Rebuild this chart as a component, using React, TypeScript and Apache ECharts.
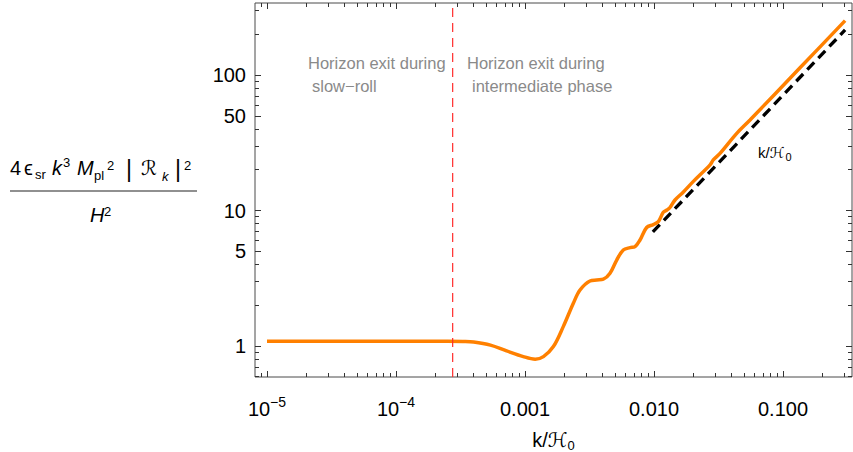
import React, { useEffect, useRef } from 'react';
import * as echarts from 'echarts';

// ---- data ----
const kValues = [
  1.0e-5, 3.0e-5, 1.0e-4, 2.5e-4, 3.3e-4, 4.0e-4, 5.4e-4, 7.2e-4, 9.7e-4, 1.2e-3,
  1.39e-3, 1.66e-3, 1.98e-3, 2.37e-3, 2.67e-3, 3.19e-3, 3.6e-3, 4.05e-3, 4.56e-3, 5.14e-3,
  5.78e-3, 6.52e-3, 7.13e-3, 7.79e-3, 8.77e-3, 9.88e-3, 1.08e-2, 1.18e-2, 1.26e-2, 1.33e-2,
  1.455e-2, 1.69e-2, 2.02e-2, 2.72e-2, 2.88e-2, 3.25e-2, 4.38e-2, 5.55e-2, 0.1355, 0.303,
];
const spectrum = [
  1.085, 1.085, 1.085, 1.084, 1.08, 1.07, 1.015, 0.92, 0.835, 0.8,
  0.835, 0.99, 1.39, 2.07, 2.59, 3.02, 3.07, 3.11, 3.44, 4.31,
  5.11, 5.32, 5.41, 6.06, 7.49, 7.87, 8.27, 9.7, 10.08, 10.52,
  11.95, 13.7, 16.4, 21.7, 23.6, 26.4, 37.1, 46.5, 113, 252,
];
const asymptoteK = [0.0098, 0.303];
const asymptoteP = [6.95, 215];
const kExit = 2.75e-4;

const xRange = [Math.pow(10, -5.093), Math.pow(10, -0.4651)];
const yRange = [Math.pow(10, -0.2288), Math.pow(10, 2.5314)];

const xTickValues = [1e-5, 1e-4, 1e-3, 1e-2, 1e-1];
const xTickLabels = ['10{sup|−5}', '10{sup|−4}', '0.001', '0.010', '0.100'];
const xMinorTicks = [
  9e-6,
  2e-5, 3e-5, 4e-5, 5e-5, 6e-5, 7e-5, 8e-5, 9e-5,
  2e-4, 3e-4, 4e-4, 5e-4, 6e-4, 7e-4, 8e-4, 9e-4,
  2e-3, 3e-3, 4e-3, 5e-3, 6e-3, 7e-3, 8e-3, 9e-3,
  2e-2, 3e-2, 4e-2, 5e-2, 6e-2, 7e-2, 8e-2, 9e-2,
  2e-1, 3e-1,
];
const yTickValues = [1, 5, 10, 50, 100];
const yTickLabels = ['1', '5', '10', '50', '100'];
const yMinorTicks = [0.6, 0.7, 0.8, 0.9, 2, 3, 4, 6, 7, 8, 9, 20, 30, 40, 60, 70, 80, 90, 200, 300];

// ---- styling ----
const FONT = '"Liberation Sans", Arial, Helvetica, "DejaVu Sans", sans-serif';
const FRAME = '#4a4a4a';
const TICK = '#333333';
const lg = Math.log10;

function findLabel(values: number[], labels: string[], v: number) {
  for (let i = 0; i < values.length; i++) {
    if (Math.abs(lg(values[i]) - v) < 1e-6) return labels[i];
  }
  return '';
}

function tickAxis(range: number[], position: string, ticks: number[], length: number, extra: any = {}) {
  return {
    type: 'value',
    position,
    min: lg(range[0]),
    max: lg(range[1]),
    axisLine: { show: false, onZero: false },
    splitLine: { show: false },
    axisLabel: { show: false },
    axisTick: {
      show: true,
      inside: true,
      length,
      lineStyle: { color: TICK, width: 1 },
      customValues: ticks.map(lg),
    },
    ...extra,
  };
}

function txt(text: string, x: number, y: number, size: number, italic = false, color = '#000', rich?: any) {
  return {
    type: 'text',
    x,
    y,
    silent: true,
    style: {
      text,
      fontSize: size,
      fontFamily: FONT,
      fontStyle: italic ? 'italic' : 'normal',
      fill: color,
      align: 'left',
      verticalAlign: 'middle',
      rich,
    },
  };
}

export default function App() {
  const ref = useRef<HTMLDivElement>(null);

  useEffect(() => {
    document.body.style.margin = '0';
    const chart = echarts.init(ref.current as HTMLDivElement, null, { renderer: 'svg' });

    const xLabelAxis = tickAxis(xRange, 'bottom', xTickValues, 6, {
      name: 'k/{h|ℋ}{sub|0}',
      nameLocation: 'middle',
      nameGap: 47,
      nameTextStyle: {
        fontSize: 20,
        fontFamily: FONT,
        color: '#000',
        lineHeight: 24,
        rich: {
          h: { fontSize: 20, fontFamily: FONT, lineHeight: 24, color: '#000' },
          sub: { fontSize: 13, fontFamily: FONT, lineHeight: 13, padding: [11, 0, 0, 0], color: '#000' },
        },
      },
      axisLabel: {
        show: true,
        margin: 18,
        fontSize: 20,
        lineHeight: 28,
        fontFamily: FONT,
        color: '#000',
        customValues: xTickValues.map(lg),
        formatter: (v: number) => findLabel(xTickValues, xTickLabels, v),
        rich: {
          sup: { fontSize: 14, fontFamily: FONT, lineHeight: 14, padding: [0, 0, 14, 0], color: '#000' },
        },
      },
    });

    const yLabelAxis = tickAxis(yRange, 'left', yTickValues, 6, {
      axisLabel: {
        show: true,
        margin: 9,
        fontSize: 20,
        fontFamily: FONT,
        color: '#000',
        customValues: yTickValues.map(lg),
        formatter: (v: number) => findLabel(yTickValues, yTickLabels, v),
      },
    });

    const option: any = {
      animation: false,
      backgroundColor: '#fff',
      grid: {
        left: 255,
        right: 1,
        top: 3,
        bottom: 75,
        show: true,
        borderColor: FRAME,
        borderWidth: 1,
        backgroundColor: 'transparent',
        containLabel: false,
        outerBoundsMode: 'none',
      },
      xAxis: [
        { type: 'log', logBase: 10, min: xRange[0], max: xRange[1], show: false },
        xLabelAxis,
        tickAxis(xRange, 'bottom', xMinorTicks, 4),
        tickAxis(xRange, 'top', xTickValues, 6),
        tickAxis(xRange, 'top', xMinorTicks, 4),
      ],
      yAxis: [
        { type: 'log', logBase: 10, min: yRange[0], max: yRange[1], show: false },
        yLabelAxis,
        tickAxis(yRange, 'left', yMinorTicks, 4),
        tickAxis(yRange, 'right', yTickValues, 6),
        tickAxis(yRange, 'right', yMinorTicks, 4),
      ],
      series: [
        {
          name: 'asymptote',
          type: 'line',
          xAxisIndex: 0,
          yAxisIndex: 0,
          data: asymptoteK.map((k, i) => [k, asymptoteP[i]]),
          showSymbol: false,
          silent: true,
          z: 2,
          lineStyle: { color: '#000', width: 3.3, type: [10, 6], cap: 'butt' },
        },
        {
          name: 'spectrum',
          type: 'line',
          xAxisIndex: 0,
          yAxisIndex: 0,
          data: kValues.map((k, i) => [k, spectrum[i]]),
          smooth: 0.35,
          showSymbol: false,
          silent: true,
          z: 3,
          lineStyle: { color: '#ff8000', width: 3.5 },
        },
        {
          name: 'exit',
          type: 'line',
          xAxisIndex: 0,
          yAxisIndex: 0,
          data: [[kExit, yRange[0]], [kExit, yRange[1]]],
          showSymbol: false,
          silent: true,
          z: 4,
          lineStyle: { color: '#ff2a2a', width: 1.2, type: [9, 6] },
        },
      ],
      graphic: [
        txt('Horizon exit during', 308, 63, 16.5, false, '#8a8a8a'),
        txt('slow−roll', 312, 86, 16.5, false, '#8a8a8a'),
        txt('Horizon exit during', 467, 63, 16.5, false, '#8a8a8a'),
        txt('intermediate phase', 472, 86, 16.5, false, '#8a8a8a'),
        txt('k/ℋ{sub|0}', 758, 152, 15, false, '#000', {
          sub: { fontSize: 11, fontFamily: FONT, lineHeight: 11, padding: [9, 0, 0, 1], fill: '#000' },
        }),
        // y-axis title (fraction)
        txt('4', 10, 168, 20),
        txt('ϵ', 24, 168, 20),
        txt('sr', 35, 174, 13),
        txt('k', 52, 168, 20, true),
        txt('3', 63, 162, 13),
        txt('M', 77, 168, 20, true),
        txt('pl', 94, 175, 13),
        txt('2', 107, 165, 13),
        txt('|', 126, 169, 23),
        txt('ℛ', 141, 168, 20, true),
        txt('k', 162, 176, 13, true),
        txt('|', 175, 169, 23),
        txt('2', 184, 165, 13),
        {
          type: 'line',
          silent: true,
          shape: { x1: 10, y1: 191, x2: 197, y2: 191 },
          style: { stroke: '#222', lineWidth: 1.2 },
        },
        txt('H', 90, 215, 20, true),
        txt('2', 104, 211, 13),
      ],
    };

    chart.setOption(option);
    return () => chart.dispose();
  }, []);

  return <div ref={ref} style={{ width: 853, height: 452 }} />;
}
